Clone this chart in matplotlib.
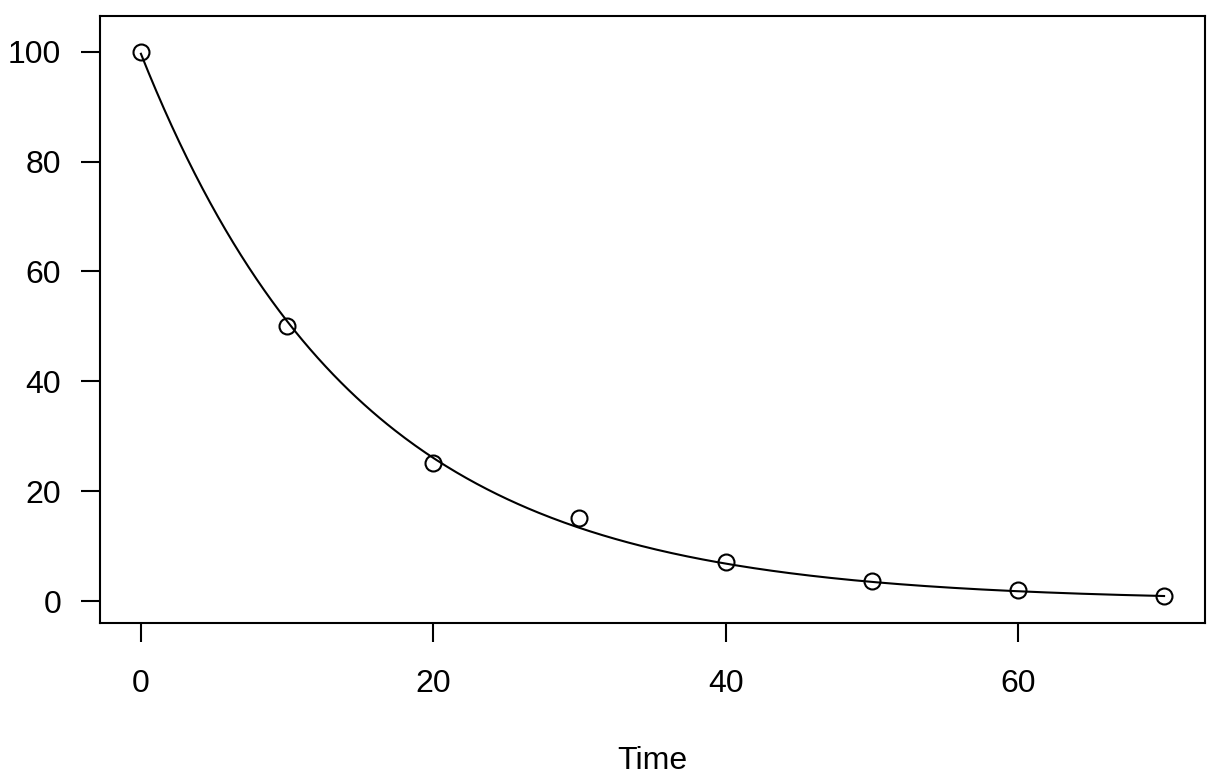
import numpy as np
import matplotlib
matplotlib.use("Agg")
import matplotlib.pyplot as plt

plt.rcParams['font.family'] = ['Liberation Sans', 'DejaVu Sans']

time = [0, 10, 20, 30, 40, 50, 60, 70]
value = [100.0, 50.1, 25.2, 15.2, 7.1, 3.6, 2.0, 1.0]
x_ticks = [0, 20, 40, 60]
y_ticks = [0, 20, 40, 60, 80, 100]

t = np.array(time, float)
y = np.array(value, float)

# nonlinear least squares fit of y = a*exp(-k t) (grid search on k, closed-form a)
ks = np.linspace(0.01, 0.2, 20001)
best = None
for k in ks:
    e = np.exp(-k * t)
    a = (e @ y) / (e @ e)
    sse = np.sum((y - a * e) ** 2)
    if best is None or sse < best[0]:
        best = (sse, a, k)
_, a_fit, k_fit = best
tt = np.linspace(t.min(), t.max(), 400)
yy = a_fit * np.exp(-k_fit * tt)

fig = plt.figure(figsize=(12.2, 7.84), dpi=100)
ax = fig.add_axes([100/1220, 1-623/784, (1205-100)/1220, (623-16)/784])
ax.plot(tt, yy, color='black', lw=1.5)
ax.plot(t, y, 'o', mfc='none', mec='black', ms=11.5, mew=1.5)

ax.set_xlim(-2.8, 72.8)
ax.set_ylim(-4.0, 106.5)
ax.set_xticks(x_ticks)
ax.set_yticks(y_ticks)
for s in ax.spines.values():
    s.set_linewidth(1.5)
ax.tick_params(axis='both', length=14, width=1.5, labelsize=23, direction='out')
ax.tick_params(axis='x', pad=19)
ax.tick_params(axis='y', pad=14)
ax.set_xlabel('Time', fontsize=23, labelpad=34)

fig.savefig('out.png', dpi=100)
